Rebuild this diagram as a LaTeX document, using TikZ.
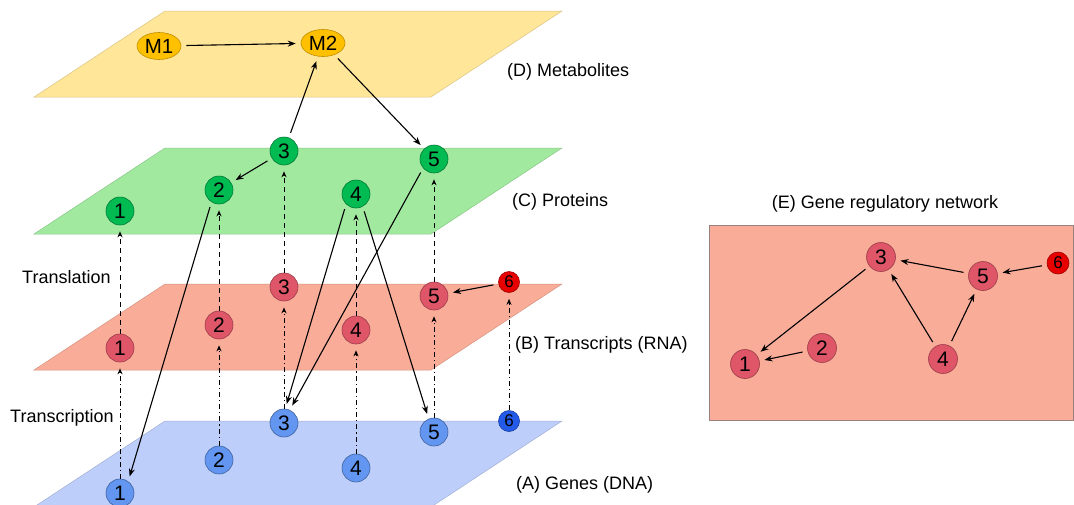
\documentclass[tikz,border=0pt]{standalone}
\usepackage{fontspec}
\setmainfont{Liberation Sans}
\usepackage{tikz}
\usetikzlibrary{arrows.meta,shapes.geometric}
\definecolor{metab}{RGB}{255,230,153}
\definecolor{prot}{RGB}{162,233,160}
\definecolor{rna}{RGB}{249,173,153}
\definecolor{dna}{RGB}{190,206,250}
\definecolor{mnode}{RGB}{255,192,0}
\definecolor{pnode}{RGB}{0,186,82}
\definecolor{rnode}{RGB}{222,86,104}
\definecolor{dnode}{RGB}{98,150,240}
\definecolor{rsix}{RGB}{230,0,0}
\definecolor{dsix}{RGB}{35,90,232}
\definecolor{boxline}{RGB}{150,128,128}

\begin{document}
\begin{tikzpicture}[x=1pt,y=-1pt,
  lyr/.style={line width=0.5pt},
  num/.style={circle,inner sep=0pt,minimum size=28pt,line width=0.6pt,font=\fontsize{21}{21}\selectfont},
  mn/.style={ellipse,inner sep=0pt,minimum width=44pt,minimum height=27pt,draw=mnode!75!black,fill=mnode,line width=0.6pt,font=\fontsize{20.5}{20.5}\selectfont},
  pn/.style={num,draw=pnode!65!black,fill=pnode},
  rn/.style={num,draw=rnode!70!black,fill=rnode},
  dn/.style={num,draw=dnode!65!black,fill=dnode},
  en/.style={rn,minimum size=29pt},
  six/.style={circle,inner sep=0pt,minimum size=21pt,line width=0.6pt,font=\fontsize{17}{17}\selectfont},
  a/.style={-{Stealth[length=8pt,width=6pt]},line width=1.1pt,shorten >=5pt,shorten <=5pt},
  tl/.style={-{Stealth[length=6pt,width=5pt]},line width=1pt,dash pattern=on 5pt off 4pt,shorten >=6pt},
  tc/.style={-{Stealth[length=6pt,width=5pt]},line width=1pt,dash pattern=on 5pt off 3pt on 1.2pt off 3pt,shorten >=6pt},
  lbl/.style={anchor=west,inner sep=0pt,font=\fontsize{18}{18}\selectfont}
]
\useasboundingbox (0,0) rectangle (1074,504);

% layers
\filldraw[lyr,fill=metab,draw=metab!85!black] (165,11) -- (562,11) -- (431,97) -- (34,97) -- cycle;
\filldraw[lyr,fill=prot,draw=prot!85!black] (165,148) -- (562,148) -- (431,234) -- (34,234) -- cycle;
\filldraw[lyr,fill=rna,draw=rna!85!black] (165,284) -- (562,284) -- (431,370) -- (34,370) -- cycle;
\filldraw[lyr,fill=dna,draw=dna!85!black] (165,421) -- (562,421) -- (431,507) -- (34,507) -- cycle;
\filldraw[lyr,fill=rna,draw=boxline] (709,225) rectangle (1073,420);

% metabolites
\node[mn] (m1) at (159,46) {M1};
\node[mn] (m2) at (323,43) {M2};

% proteins
\node[pn] (p1) at (120,211) {1};
\node[pn] (p2) at (219,190) {2};
\node[pn] (p3) at (284,151) {3};
\node[pn] (p4) at (356,194) {4};
\node[pn] (p5) at (434,159) {5};

% transcripts
\node[rn] (r1) at (120,348) {1};
\node[rn] (r2) at (219,325) {2};
\node[rn] (r3) at (284,287) {3};
\node[rn] (r4) at (356,330) {4};
\node[rn] (r5) at (434,296) {5};
\node[six,draw=rsix!70!black,fill=rsix] (r6) at (509,282) {6};

% genes
\node[dn] (d1) at (120,493) {1};
\node[dn] (d2) at (219,460) {2};
\node[dn] (d3) at (284,423) {3};
\node[dn] (d4) at (356,468) {4};
\node[dn] (d5) at (434,432) {5};
\node[six,draw=dsix!70!black,fill=dsix] (d6) at (509,421) {6};

% gene regulatory network
\node[en] (e1) at (745,364) {1};
\node[en] (e2) at (822,348) {2};
\node[en] (e3) at (881,257) {3};
\node[en] (e4) at (943,359) {4};
\node[en] (e5) at (983,276) {5};
\node[six,minimum size=22pt,draw=rsix!70!black,fill=rsix] (e6) at (1058,263) {6};

% labels
\node[lbl] (ld) at (507,72) {(D) Metabolites};
\node[lbl] (lc) at (512,202) {(C) Proteins};
\node[lbl] (lb) at (515,345) {(B) Transcripts (RNA)};
\node[lbl] (la) at (516,485) {(A) Genes (DNA)};
\node[lbl] (ltl) at (22,277) {Translation};
\node[lbl] (ltc) at (10,418) {Transcription};
\node[font=\fontsize{18}{18}\selectfont] (le) at (885,204) {(E) Gene regulatory network};

% translation
\draw[tl] (r1) -- (p1);
\draw[tl] (r2) -- (p2);
\draw[tl] (r3) -- (p3);
\draw[tl] (r4) -- (p4);
\draw[tl] (r5) -- (p5);

% transcription
\draw[tc] (d1) -- (r1);
\draw[tc] (d2) -- (r2);
\draw[tc] (d3) -- (r3);
\draw[tc] (d4) -- (r4);
\draw[tc] (d5) -- (r5);
\draw[tc] (d6) -- (r6);

% interactions
\draw[a] (m1) -- (m2);
\draw[a] (p3) -- (m2);
\draw[a] (m2) -- (p5);
\draw[a] (p3) -- (p2);
\draw[a] (p2.238) -- (d1.55);
\draw[a] (p4.226) -- (d3.85);
\draw[a] (p5.220) -- (d3.66);
\draw[a] (p4.298) -- (d5.112);
\draw[a] (r6) -- (r5);

\draw[a] (e3) -- (e1);
\draw[a] (e2) -- (e1);
\draw[a] (e5) -- (e3);
\draw[a] (e4) -- (e3);
\draw[a] (e4) -- (e5);
\draw[a] (e6) -- (e5);
\end{tikzpicture}
\end{document}
